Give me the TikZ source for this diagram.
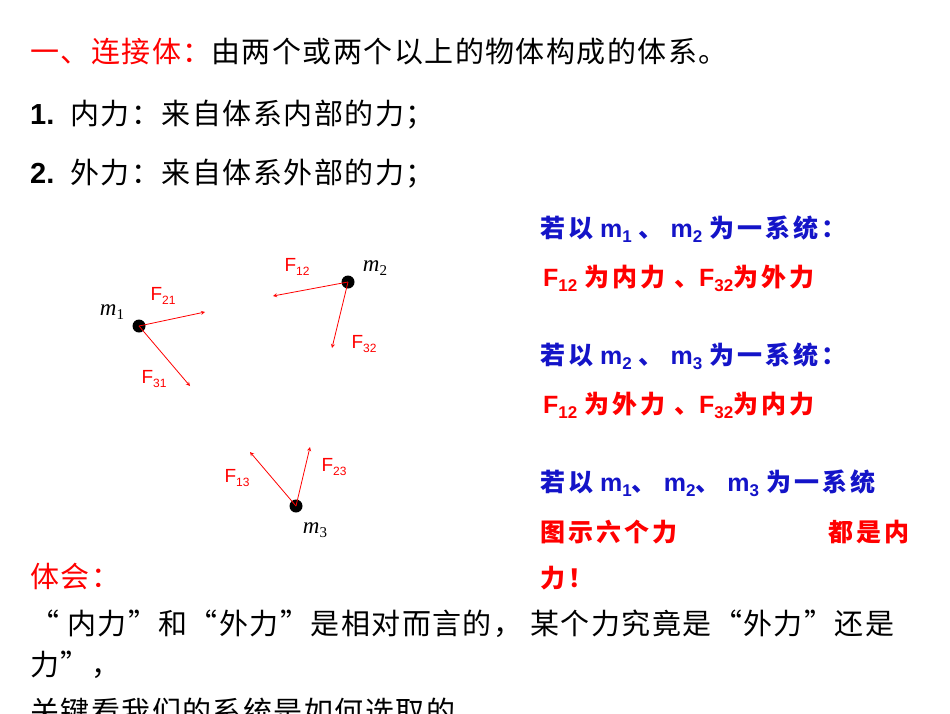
\documentclass[tikz,border=0pt]{standalone}
\usepackage{fontspec}
\setmainfont{Liberation Sans}
\newfontfamily\cjk[LetterSpace=5]{Noto Sans CJK SC}
\newfontfamily\cjkb[LetterSpace=12]{Noto Sans CJK SC}
\newfontfamily\tms{Liberation Serif}
\definecolor{myred}{RGB}{255,0,0}
\definecolor{myblue}{RGB}{20,20,200}
\newcommand{\fsb}[1]{\raisebox{-4pt}{\fontsize{12}{12}\selectfont #1}}
\newcommand{\rsb}[1]{\raisebox{-5pt}{\fontsize{17}{17}\selectfont #1}}
\newcommand{\msb}[1]{\raisebox{-4pt}{\fontsize{15}{15}\selectfont\upshape #1}}
\begin{document}
\begin{tikzpicture}[x=1pt,y=-1pt,
  txt/.style={anchor=base west,inner sep=0pt,font=\fontsize{29}{30}\selectfont},
  rt/.style={anchor=base west,inner sep=0pt,font=\fontsize{25}{28}\selectfont\bfseries\let\cjk\cjkb},
  frc/.style={red,line width=0.8pt,-stealth},
  flab/.style={red,inner sep=0pt,font=\fontsize{19}{20}\selectfont},
  mlab/.style={inner sep=0pt,font=\tms\itshape\fontsize{23}{24}\selectfont},
  dot/.style={circle,fill=black,inner sep=0pt,minimum size=13pt}]
\useasboundingbox (0,0) rectangle (950,713);
\clip (0,0) rectangle (950,713);
\node[txt] (t1) at (30,62) {\cjk\textcolor{myred}{一、连接体：}由两个或两个以上的物体构成的体系。};
\node[txt] (t2) at (30,124) {\textbf{1.}\ \ {\cjk 内力：来自体系内部的力；}};
\node[txt] (t3) at (30,183) {\textbf{2.}\ \ {\cjk 外力：来自体系外部的力；}};
% right column
\node[rt,myblue] (r1) at (540,237) {{\cjk 若以} m\rsb{1} {\cjk 、} m\rsb{2} {\cjk 为一系统：}};
\node[rt,myred] (r2) at (543,286) {F\rsb{12} {\cjk 为内力 、}F\rsb{32}{\cjk 为外力}};
\node[rt,myblue] (r3) at (540,364) {{\cjk 若以} m\rsb{2} {\cjk 、} m\rsb{3} {\cjk 为一系统：}};
\node[rt,myred] (r4) at (543,413) {F\rsb{12} {\cjk 为外力 、}F\rsb{32}{\cjk 为内力}};
\node[rt,myblue] (r5) at (540,491) {{\cjk 若以} m\rsb{1}{\cjk 、} m\rsb{2}{\cjk 、} m\rsb{3} {\cjk 为一系统}};
\node[rt,myred] (r6) at (540,541) {\cjk 图示六个力};
\node[rt,myred] (r6b) at (828,541) {\cjk 都是内};
\node[rt,myred] (r7) at (540,587) {\cjk 力！};
% bottom
\node[txt,myred] (b1) at (30,587) {\cjk 体会：};
\node[txt] (b2) at (30,634) {\cjk “ 内力”和“外力”是相对而言的， 某个力究竟是“外力”还是};
\node[txt] (b3) at (30,675) {\cjk 力”，};
\node[txt] (b4) at (30,722) {\cjk 关键看我们的系统是如何选取的。};
% masses
\node[dot] (m1) at (139,326) {};
\node[dot] (m2) at (348,282) {};
\node[dot] (m3) at (296,506) {};
\node[mlab] (lm1) at (112,312) {m\msb{1}};
\node[mlab] (lm2) at (375,268) {m\msb{2}};
\node[mlab] (lm3) at (315,530) {m\msb{3}};
\coordinate (e21) at (205,312);
\coordinate (e31) at (190,386);
\coordinate (e12) at (273,296);
\coordinate (e32) at (332,348);
\coordinate (e13) at (250,452);
\coordinate (e23) at (310,447);
\draw[frc] (m1.center) -- (e21);
\draw[frc] (m1.center) -- (e31);
\draw[frc] (m2.center) -- (e12);
\draw[frc] (m2.center) -- (e32);
\draw[frc] (m3.center) -- (e13);
\draw[frc] (m3.center) -- (e23);
\node[flab] (f21) at (163,296) {F\fsb{21}};
\node[flab] (f31) at (154,379) {F\fsb{31}};
\node[flab] (f12) at (297,267) {F\fsb{12}};
\node[flab] (f32) at (364,344) {F\fsb{32}};
\node[flab] (f13) at (237,478) {F\fsb{13}};
\node[flab] (f23) at (334,467) {F\fsb{23}};
\end{tikzpicture}
\end{document}
